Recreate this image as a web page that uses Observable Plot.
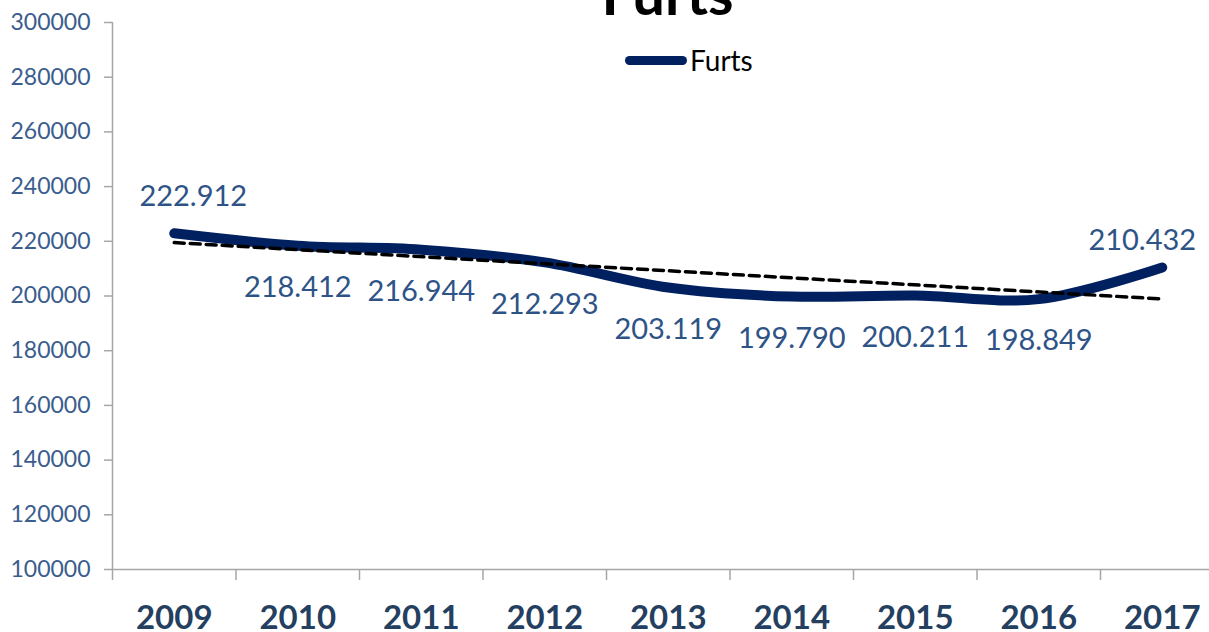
<!DOCTYPE html>
<html>
<head>
<meta charset="utf-8">
<script src="https://cdn.jsdelivr.net/npm/d3@7"></script>
<script src="https://cdn.jsdelivr.net/npm/@observablehq/plot@0.6"></script>
<style>
  html, body { margin: 0; padding: 0; background: #fff; }
  #wrap { position: relative; width: 1209px; height: 632px; overflow: hidden; background: #fff; }
  #title { position: absolute; left: 63px; width: 1209px; top: -36px; text-align: center;
           font: bold 58px/58px Lato, sans-serif; color: #000; margin: 0; z-index: 2; }
  #legend { position: absolute; left: 625px; top: 44px; display: flex; align-items: center;
            font: 28px/32px Lato, sans-serif; color: #000; z-index: 2; }
  #legend .sw { width: 62px; height: 9px; border-radius: 5px; background: #002060; margin-right: 3px; }
</style>
</head>
<body>
<div id="wrap">
  <div id="title">Furts</div>
  <div id="legend"><span class="sw"></span><span>Furts</span></div>
</div>
<script>
const years = [2009, 2010, 2011, 2012, 2013, 2014, 2015, 2016, 2017];
const values = [222912, 218412, 216944, 212293, 203119, 199790, 200211, 198849, 210432];
const yTicks = [100000, 120000, 140000, 160000, 180000, 200000, 220000, 240000, 260000, 280000, 300000];

const fmt = d3.formatLocale({decimal: ",", thousands: ".", grouping: [3], currency: ["", "€"]}).format(",d");
const data = years.map((year, i) => ({year, value: values[i], label: fmt(values[i])}));
const boundaries = years.map(y => y - 0.5).concat([years[years.length - 1] + 0.5]);
const xDomain = [boundaries[0], boundaries[boundaries.length - 1]];
const n = years.length;
const last = n - 1;

const chart = Plot.plot({
  width: 1209,
  height: 632,
  marginLeft: 112,
  marginRight: 0,
  marginTop: 22,
  marginBottom: 63,
  style: {fontFamily: "Lato, sans-serif", background: "transparent"},
  x: {type: "linear", domain: xDomain, range: [112, 112 + n * 123.5]},
  y: {domain: [yTicks[0], yTicks[yTicks.length - 1]], range: [569, 22]},
  marks: [
    Plot.ruleX([xDomain[0]], {stroke: "#A6A6A6", strokeWidth: 1.5}),
    Plot.ruleY([yTicks[0]], {stroke: "#A6A6A6", strokeWidth: 1.5}),
    Plot.axisY({ticks: yTicks, tickSize: 8, tickPadding: 14, tickFormat: d3.format("d"),
                fontSize: 23, fill: "#3A5D8E", stroke: "#A6A6A6", strokeWidth: 1.5, label: null}),
    Plot.axisX({ticks: boundaries, tickSize: 11, tickFormat: () => "", stroke: "#A6A6A6", strokeWidth: 1.5, label: null}),
    Plot.axisX({ticks: years, tickSize: 0, tickPadding: 36, tickFormat: d => String(d),
                fontSize: 33, fontWeight: "bold", fill: "#243F60", label: null}),
    Plot.line(data, {x: "year", y: "value", curve: "catmull-rom", stroke: "#002060",
                     strokeWidth: 10, strokeLinecap: "round", strokeLinejoin: "round"}),
    Plot.linearRegressionY(data, {x: "year", y: "value", ci: 0, stroke: "#000",
                     strokeWidth: 3.5, strokeDasharray: "10,6"}),
    Plot.text(data.filter((d, i) => i > 0 && i < last), {x: "year", y: "value", text: "label",
                     dy: 42, fontSize: 29, fill: "#2E5386"}),
    Plot.text(data.filter((d, i) => i === 0), {x: "year", y: "value", text: "label",
                     dy: -37, dx: 19, fontSize: 29, fill: "#2E5386"}),
    Plot.text(data.filter((d, i) => i === last), {x: "year", y: "value", text: "label",
                     dy: -27, dx: -20, fontSize: 29, fill: "#2E5386"})
  ]
});
chart.style.position = "absolute";
chart.style.left = "0";
chart.style.top = "0";
document.getElementById("wrap").appendChild(chart);
</script>
</body>
</html>
